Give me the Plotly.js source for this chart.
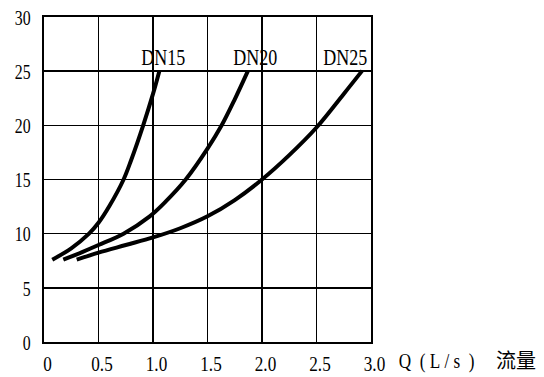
<!DOCTYPE html>
<html>
<head>
<meta charset="utf-8">
<script src="https://cdn.plot.ly/plotly-3.0.1.min.js"></script>
<style>html,body{margin:0;padding:0;background:#fff;}#chart{width:544px;height:377px;}</style>
</head>
<body>
<div id="chart"></div>
<script>
// Flow Q (L/s) vs. head
const dn15Q = [0.076, 0.25, 0.413, 0.5, 0.6, 0.73, 0.80, 0.91, 1.0, 1.058];
const dn15H = [7.6, 8.65, 10.0, 11.0, 12.55, 15.0, 16.8, 20.0, 22.9, 25.0];

const dn20Q = [0.177, 0.35, 0.5, 0.73, 0.97, 1.10, 1.30, 1.5, 1.63, 1.75, 1.87];
const dn20H = [7.6, 8.3, 8.95, 10.0, 11.6, 12.8, 15.0, 17.85, 20.0, 22.4, 25.0];

const dn25Q = [0.30, 0.5, 0.75, 1.0, 1.25, 1.5, 1.75, 2.0, 2.25, 2.5, 2.75, 2.92];
const dn25H = [7.6, 8.25, 8.95, 9.65, 10.5, 11.6, 13.1, 15.0, 17.25, 19.8, 22.9, 25.05];

const seriesNames = ["DN15", "DN20", "DN25"];
const labelQ = [1.10, 1.936, 2.77];
const labelH = [26.3, 26.3, 26.3];

const xTickVals = [0, 0.5, 1.0, 1.5, 2.0, 2.5, 3.0];
const xTickText = ["0", "0.5", "1.0", "1.5", "2.0", "2.5", "3.0"];
const yTickVals = [0, 5, 10, 15, 20, 25, 30];
const yTickText = ["0", "5", "10", "15", "20", "25", "30"];
const xAxisLatin = "Q\u00A0\u00A0(\u00A0L\u00A0/\u00A0s\u00A0\u00A0)";
const xAxisCJK = "流量";

const FONT = "Liberation Serif";

const curves = [[dn15Q, dn15H], [dn20Q, dn20H], [dn25Q, dn25H]];
const traces = curves.map((c, i) => ({
  x: c[0], y: c[1], name: seriesNames[i], type: "scatter", mode: "lines",
  line: {color: "#000", width: 4, shape: "spline", smoothing: 1},
  hoverinfo: "skip"
}));

const annotations = seriesNames.map((n, i) => ({
  x: labelQ[i], y: labelH[i], xref: "x", yref: "y", text: n, showarrow: false,
  font: {family: FONT, size: 24, color: "#000"}, xanchor: "center", yanchor: "middle"
}));
annotations.push({
  x: 1.2018, y: -0.058, xref: "paper", yref: "paper", text: xAxisLatin, showarrow: false,
  font: {family: FONT, size: 22, color: "#000"}, xanchor: "center", yanchor: "middle"
});
annotations.push({
  x: 1.4434, y: -0.055, xref: "paper", yref: "paper", text: xAxisCJK, showarrow: false,
  font: {family: "Noto Sans CJK SC", size: 20, color: "#000"}, xanchor: "center", yanchor: "middle"
});

function axis(extra) {
  return Object.assign({
    showgrid: true, gridcolor: "#000", gridwidth: 1.6,
    showline: true, mirror: true, linecolor: "#000", linewidth: 2,
    zeroline: false, ticks: "", fixedrange: true, tickmode: "array",
    tickfont: {family: FONT, size: 22, color: "#000"}
  }, extra);
}

const layout = {
  width: 544, height: 377,
  margin: {l: 44, r: 173, t: 17, b: 35, pad: 0},
  paper_bgcolor: "#fff", plot_bgcolor: "#fff",
  font: {family: FONT, size: 20, color: "#000"},
  showlegend: false,
  xaxis: axis({range: [0, 3], tickvals: xTickVals, ticktext: xTickText, ticklabelstandoff: 1}),
  yaxis: axis({range: [0, 30], tickvals: yTickVals, ticktext: yTickText, ticklabelstandoff: 7}),
  annotations: annotations
};

// narrow the serif glyphs horizontally around each text's own anchor point
function condense(el, s, dx) {
  el.style.fontFamily = "'Liberation Serif', serif";
  const x = parseFloat(el.getAttribute("x") || 0), y = parseFloat(el.getAttribute("y") || 0);
  const tr = el.getAttribute("transform") || "";
  el.setAttribute("transform", tr + " translate(" + (x + dx) + "," + y + ") scale(" + s + ",1) translate(" + (-x) + "," + (-y) + ")");
}

Plotly.newPlot("chart", traces, layout, {staticPlot: true, displayModeBar: false}).then(() => {
  document.querySelectorAll("#chart .xtick text").forEach(t => condense(t, 0.78, 3.5));
  document.querySelectorAll("#chart .ytick text").forEach(t => condense(t, 0.72, 0));
  const ann = document.querySelectorAll("#chart g.annotation text.annotation-text");
  for (let i = 0; i < 4 && i < ann.length; i++) condense(ann[i], i < 3 ? 0.75 : 0.78, 0);
});
</script>
</body>
</html>
